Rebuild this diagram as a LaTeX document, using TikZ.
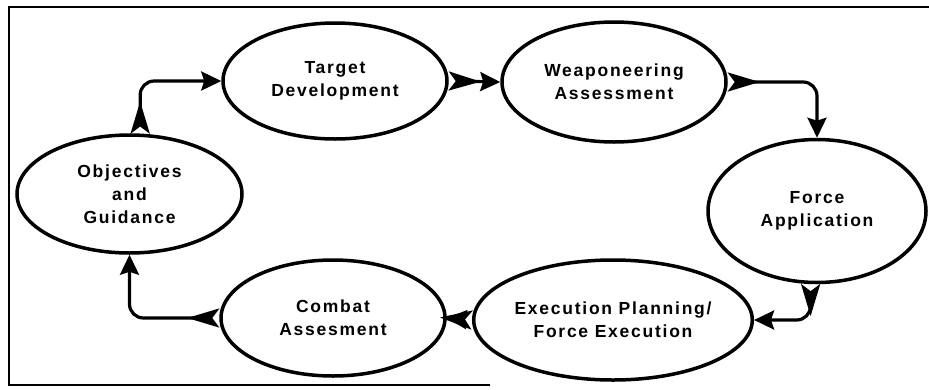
\documentclass[tikz,border=0pt]{standalone}
\usepackage{fontspec}
\setmainfont{Liberation Sans}[LetterSpace=10]
\usetikzlibrary{arrows.meta,shapes.geometric}

\begin{document}
\begin{tikzpicture}[x=1pt, y=-1pt,
  stage/.style={shape=ellipse, draw=black, line width=3.5pt, inner sep=0pt, align=center,
    font=\fontsize{17.5}{23}\selectfont\bfseries},
  flow/.style={line width=3.2pt, rounded corners=14pt,
    {Stealth[reversed,length=32pt,width=19pt,inset=7pt]}-{Stealth[length=20pt,width=19pt,inset=3pt]}}]
\useasboundingbox (0,0) rectangle (929,389);
\draw[line width=1.2pt] (929,7) -- (9,7) -- (9,385) -- (490,385);
\node[stage, minimum width=225pt, minimum height=118pt] (obj)   at (129.5,194) {Objectives\\and\\Guidance};
\node[stage, minimum width=224pt, minimum height=116pt] (tgt)   at (335,81)    {Target\\Development};
\node[stage, minimum width=224pt, minimum height=120pt] (weap)  at (614,82)    {Weaponeering\\Assessment};
\node[stage, minimum width=218pt, minimum height=143pt] (force) at (817,211)   {Force\\Application};
\node[stage, minimum width=226pt, minimum height=120pt] (exec)  at (613,320)   {Execution Planning/\\Force Execution};
\node[stage, minimum width=224pt, minimum height=116pt] (cmb)   at (333,318)   {Combat\\Assesment};
\draw[flow] (obj.80) |- (tgt.west);
\draw[flow] (tgt.east) -- (weap.west);
\draw[flow] (weap.east) -| (force.north);
\draw[flow] (force.265) |- (exec.east);
\draw[flow] (exec.west) -- (cmb.east);
\draw[flow] (cmb.west) -| (obj.south);
\end{tikzpicture}
\end{document}
